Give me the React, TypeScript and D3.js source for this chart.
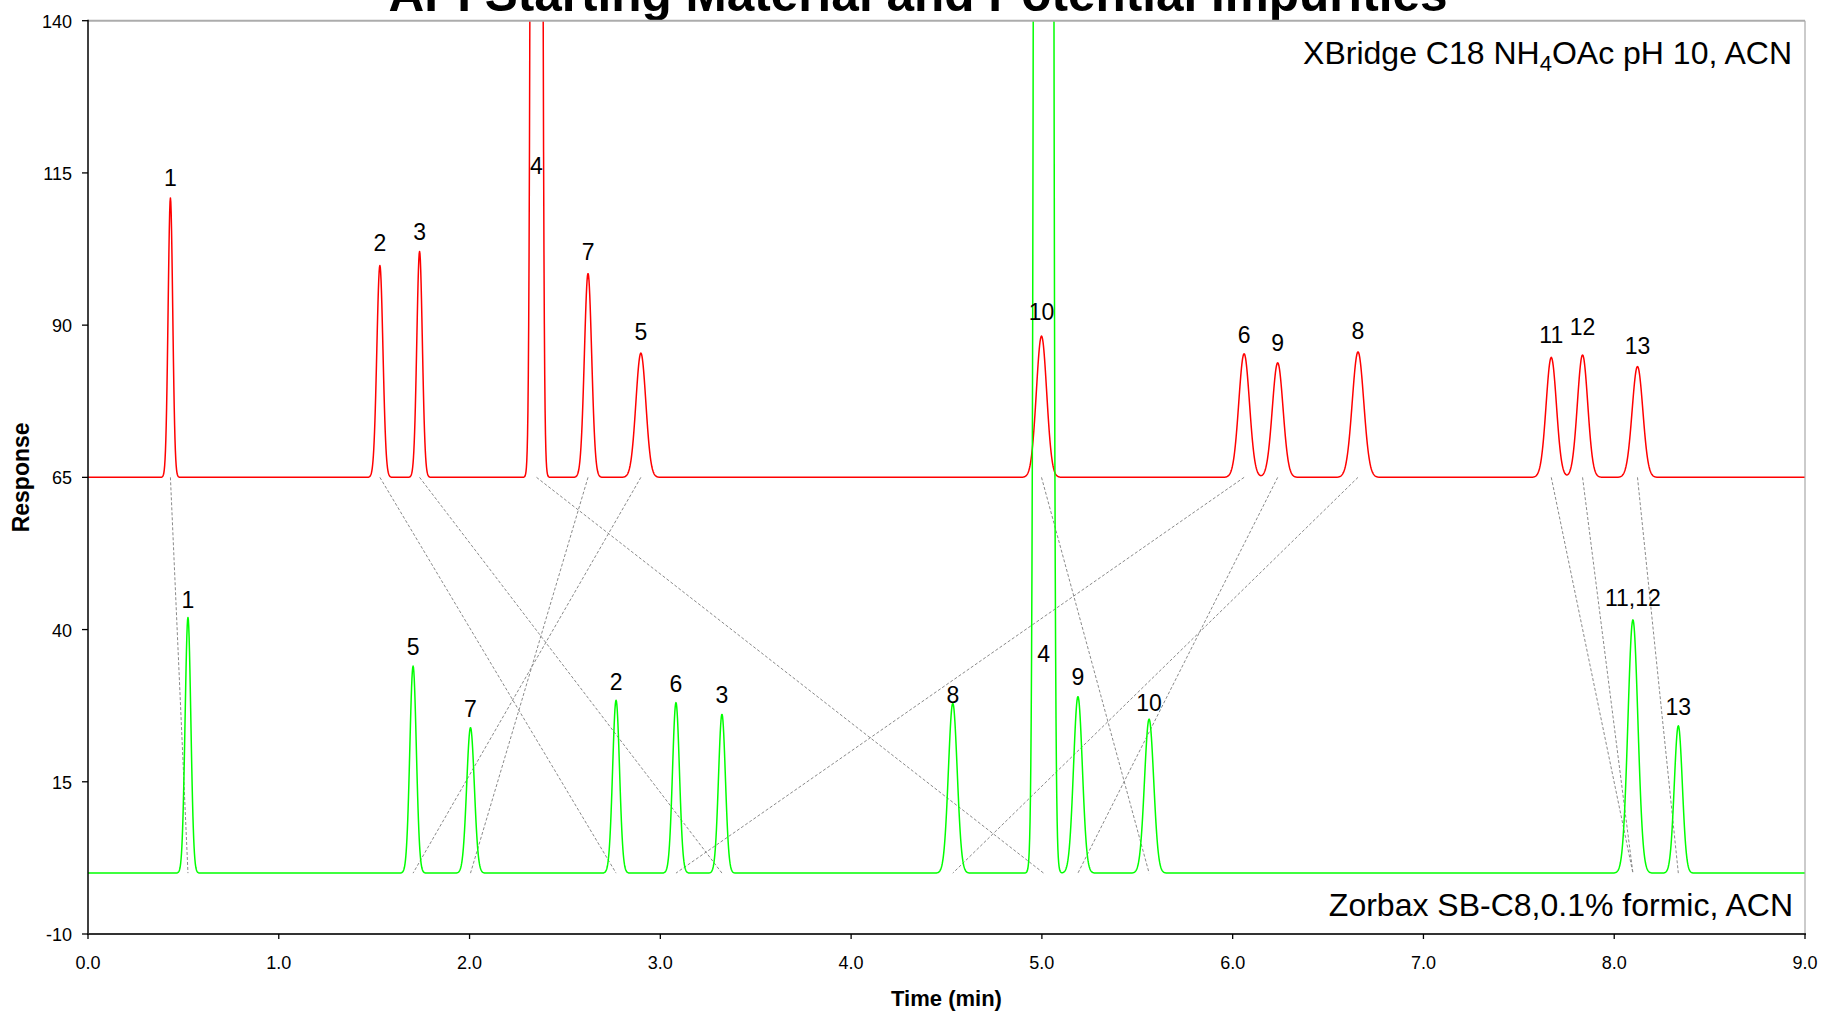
import React from "react";
import * as d3 from "d3";

// ---------- data ----------
const xTickValues = [0, 1, 2, 3, 4, 5, 6, 7, 8, 9];
const xTickLabels = ["0.0", "1.0", "2.0", "3.0", "4.0", "5.0", "6.0", "7.0", "8.0", "9.0"];
const yTickValues = [-10, 15, 40, 65, 90, 115, 140];
const yTickLabels = ["-10", "15", "40", "65", "90", "115", "140"];

// XBridge C18 (red) trace: baseline 65
const redBaseline = 65;
const redPeakIds = ["1", "2", "3", "4", "7", "5", "10", "6", "9", "8", "11", "12", "13"];
const redPeakTimes = [0.432, 1.53, 1.738, 2.351, 2.621, 2.898, 4.998, 6.06, 6.236, 6.657, 7.67, 7.834, 8.122];
const redPeakTops = [110.9, 99.8, 102.1, 1515, 98.5, 85.4, 88.2, 85.3, 83.8, 85.6, 84.7, 85.1, 83.2];
const redPeakSigmas = [0.012, 0.016, 0.0145, 0.0144, 0.019, 0.026, 0.027, 0.028, 0.028, 0.03, 0.027, 0.027, 0.028];
const redLabelValues = [112.8, 102.1, 104.0, 114.9, 100.7, 87.6, 90.8, 87.0, 85.8, 87.7, 87.0, 88.3, 85.3];

// Zorbax SB-C8 (green) trace: baseline 0
const greenBaseline = 0;
const greenPeakIds = ["1", "5", "7", "2", "6", "3", "8", "4", "9", "10", "11,12", "13"];
const greenPeakTimes = [0.524, 1.704, 2.005, 2.768, 3.082, 3.323, 4.533, 5.009, 5.189, 5.562, 8.098, 8.336];
const greenPeakTops = [42.0, 34.0, 23.9, 28.4, 28.0, 26.1, 27.9, 7400, 29.0, 25.3, 41.6, 24.2];
const greenPeakSigmas = [0.015, 0.017, 0.02, 0.018, 0.018, 0.018, 0.023, 0.0193, 0.023, 0.024, 0.026, 0.021];
const greenLabelValues = [43.5, 35.8, 25.7, 30.0, 29.7, 27.9, 27.9, 34.7, 30.9, 26.7, 43.8, 25.9];

// peak correspondences (red id -> green id)
const linkRed = ["1", "2", "3", "4", "5", "6", "7", "8", "9", "10", "11", "12", "13"];
const linkGreen = ["1", "2", "3", "4", "5", "6", "7", "8", "9", "10", "11,12", "11,12", "13"];

const title = "API Starting Material and Potential Impurities";
const xTitle = "Time (min)";
const yTitle = "Response";

// ---------- chart ----------
const W = 1821;
const H = 1013;
const FONT = "'Liberation Sans', Arial, Helvetica, sans-serif";

function buildTrace(base: number, times: number[], tops: number[], sigmas: number[]) {
  const samples = d3.range(0, 9.0001, 0.002);
  return samples.map((t) => {
    let v = base;
    for (let i = 0; i < times.length; i++) {
      const d = t - times[i];
      v += (tops[i] - base) * Math.exp(-(d * d) / (2 * sigmas[i] * sigmas[i]));
    }
    return [t, v] as [number, number];
  });
}

export default function App() {
  const left = 88, right = 1805, top = 20.7, bottom = 934;
  const x = d3.scaleLinear().domain([0, 9]).range([left, right]);
  const y = d3.scaleLinear().domain([-10, 140]).range([bottom, top]);

  const line = d3
    .line<[number, number]>()
    .x((d) => x(d[0]))
    .y((d) => Math.max(-2000, y(d[1])));

  const redPath = line(buildTrace(redBaseline, redPeakTimes, redPeakTops, redPeakSigmas)) || "";
  const greenPath = line(buildTrace(greenBaseline, greenPeakTimes, greenPeakTops, greenPeakSigmas)) || "";

  const links = linkRed.map((rid, i) => {
    const ri = redPeakIds.indexOf(rid);
    const gi = greenPeakIds.indexOf(linkGreen[i]);
    return {
      x1: x(redPeakTimes[ri]),
      y1: y(redBaseline),
      x2: x(greenPeakTimes[gi]),
      y2: y(greenBaseline),
    };
  });

  return (
    <div style={{ position: "absolute", left: 0, top: 0, width: W, height: H, overflow: "hidden", background: "#fff" }}>
      <svg width={W} height={H} style={{ display: "block", fontFamily: FONT }}>
        <defs>
          <clipPath id="plotClip">
            <rect x={left} y={top} width={right - left} height={bottom - top} />
          </clipPath>
        </defs>
        <rect x={0} y={0} width={W} height={H} fill="#fff" />

        {/* title (clipped at top as in reference) */}
        <text x={918} y={11} textAnchor="middle" fontSize={49.5} fontWeight="bold" fill="#000">
          {title}
        </text>

        {/* dashed correspondence lines */}
        <g clipPath="url(#plotClip)">
          {links.map((l, i) => (
            <line key={i} x1={l.x1} y1={l.y1} x2={l.x2} y2={l.y2} stroke="#8a8a8a" strokeWidth={1} strokeDasharray="3,2" />
          ))}
        </g>

        {/* traces */}
        <g clipPath="url(#plotClip)">
          <path d={redPath} fill="none" stroke="#ff0000" strokeWidth={1.5} strokeLinejoin="round" />
          <path d={greenPath} fill="none" stroke="#00ff00" strokeWidth={1.5} strokeLinejoin="round" />
        </g>

        {/* frame */}
        <line x1={left} y1={top} x2={right} y2={top} stroke="#acacac" strokeWidth={2} />
        <line x1={right} y1={top} x2={right} y2={bottom} stroke="#a8a8a8" strokeWidth={1.2} />
        <line x1={left} y1={top - 1} x2={left} y2={bottom} stroke="#000" strokeWidth={1.5} />
        <line x1={left - 1} y1={bottom} x2={right + 1} y2={bottom} stroke="#333" strokeWidth={2} />

        {/* y ticks */}
        {yTickValues.map((v, i) => (
          <g key={"y" + i}>
            <line x1={left - 6} x2={left} y1={y(v)} y2={y(v)} stroke="#000" strokeWidth={1.3} />
            <text x={left - 16} y={y(v) + 7} textAnchor="end" fontSize={18} fill="#000">
              {yTickLabels[i]}
            </text>
          </g>
        ))}

        {/* x ticks */}
        {xTickValues.map((v, i) => (
          <g key={"x" + i}>
            <line x1={x(v)} x2={x(v)} y1={bottom} y2={bottom + 5} stroke="#000" strokeWidth={1.3} />
            <text x={x(v)} y={969} textAnchor="middle" fontSize={18} fill="#000">
              {xTickLabels[i]}
            </text>
          </g>
        ))}

        {/* axis titles */}
        <text x={left + (right - left) / 2} y={1006} textAnchor="middle" fontSize={22} fontWeight="bold" fill="#000">
          {xTitle}
        </text>
        <text
          transform={`translate(29, ${(top + bottom) / 2}) rotate(-90)`}
          textAnchor="middle"
          fontSize={23}
          fontWeight="bold"
          fill="#000"
        >
          {yTitle}
        </text>

        {/* peak labels */}
        {redPeakIds.map((id, i) => (
          <text key={"rl" + i} x={x(redPeakTimes[i])} y={y(redLabelValues[i])} textAnchor="middle" fontSize={23} fill="#000">
            {id}
          </text>
        ))}
        {greenPeakIds.map((id, i) => (
          <text key={"gl" + i} x={x(greenPeakTimes[i])} y={y(greenLabelValues[i])} textAnchor="middle" fontSize={23} fill="#000">
            {id}
          </text>
        ))}

        {/* column annotations */}
        <text x={1792} y={64} textAnchor="end" fontSize={32} fill="#000">
          <tspan>XBridge C18 NH</tspan>
          <tspan dy={7} fontSize={22}>4</tspan>
          <tspan dy={-7}>OAc pH 10, ACN</tspan>
        </text>
        <text x={1793} y={916} textAnchor="end" fontSize={32} fill="#000">
          Zorbax SB-C8,0.1% formic, ACN
        </text>
      </svg>
    </div>
  );
}
